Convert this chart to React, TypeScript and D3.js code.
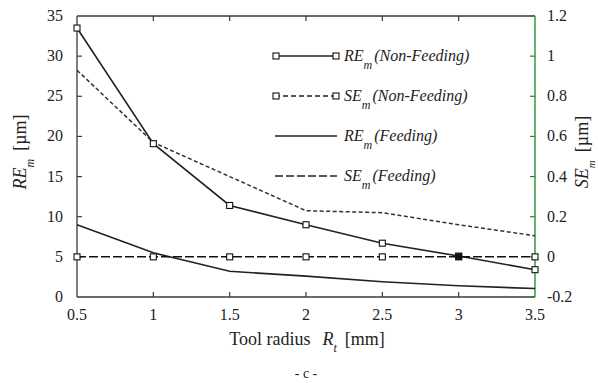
import React from "react";
import * as d3 from "d3";

// Tool radius [mm]
const radius = [0.5, 1, 1.5, 2, 2.5, 3, 3.5];
// RE_m [µm], left axis
const reNonFeeding = [33.5, 19.1, 11.4, 9.0, 6.7, 5.1, 3.4];
const reFeeding = [9.0, 5.5, 3.2, 2.6, 1.9, 1.4, 1.05];
// SE_m [µm], right axis
const seNonFeeding = [0.93, 0.57, 0.4, 0.23, 0.22, 0.16, 0.105];
const seFeeding = [0, 0, 0, 0, 0, 0, 0];

const xTicks = [0.5, 1, 1.5, 2, 2.5, 3, 3.5];
const leftTicks = [0, 5, 10, 15, 20, 25, 30, 35];
const rightTicks = [-0.2, 0, 0.2, 0.4, 0.6, 0.8, 1, 1.2];

const W = 598;
const H = 383;
const L = 77;
const R = 535;
const T = 16;
const B = 297;
const AXIS = "#3a3a3a";
const GREEN = "#1a8a1a";
const FONT = "Liberation Serif";

const x = d3.scaleLinear().domain([0.5, 3.5]).range([L, R]);
const yL = d3.scaleLinear().domain([0, 35]).range([B, T]);
const yR = d3.scaleLinear().domain([-0.2, 1.2]).range([B, T]);

const lineL = d3
  .line<number>()
  .x((_, i) => x(radius[i]))
  .y((d) => yL(d));
const lineR = d3
  .line<number>()
  .x((_, i) => x(radius[i]))
  .y((d) => yR(d));

const Sq = ({ cx, cy, fill = "#fff" }: { cx: number; cy: number; fill?: string }) => (
  <rect x={cx - 3} y={cy - 3} width={6} height={6} fill={fill} stroke="#111" strokeWidth={1.1} />
);

const legendRows = [
  { name: "RE", label: "(Non-Feeding)", dash: undefined as string | undefined, marks: true },
  { name: "SE", label: "(Non-Feeding)", dash: "5,3", marks: true },
  { name: "RE", label: "(Feeding)", dash: undefined, marks: false },
  { name: "SE", label: "(Feeding)", dash: "8,3", marks: false },
];
const legendY = [56, 96, 136, 176];

export default function App() {
  return (
    <svg
      width={W}
      height={H}
      fontFamily={FONT}
      style={{ position: "absolute", left: 0, top: 0, background: "#fff" }}
    >
      {/* frame */}
      <line x1={L} x2={R} y1={T} y2={T} stroke={AXIS} strokeWidth={1.3} />
      <line x1={L} x2={R} y1={B} y2={B} stroke={AXIS} strokeWidth={1.3} />
      <line x1={L} x2={L} y1={T} y2={B} stroke={AXIS} strokeWidth={1.3} />
      <line x1={R} x2={R} y1={T} y2={B} stroke={GREEN} strokeWidth={1.3} />

      {/* x ticks, top and bottom */}
      {xTicks.map((t) => (
        <g key={"x" + t}>
          {t > 0.5 && t < 3.5 && (
            <>
              <line x1={x(t)} x2={x(t)} y1={B} y2={B - 5} stroke={AXIS} strokeWidth={1.2} />
              <line x1={x(t)} x2={x(t)} y1={T} y2={T + 5} stroke={AXIS} strokeWidth={1.2} />
            </>
          )}
          <text x={x(t)} y={320} fontSize={16} textAnchor="middle" fill="#222">
            {t}
          </text>
        </g>
      ))}

      {/* left ticks */}
      {leftTicks.map((t) => (
        <g key={"l" + t}>
          {t > 0 && t < 35 && (
            <line x1={L} x2={L + 5} y1={yL(t)} y2={yL(t)} stroke={AXIS} strokeWidth={1.2} />
          )}
          <text x={63} y={yL(t) + 5} fontSize={16} textAnchor="end" fill="#222">
            {t}
          </text>
        </g>
      ))}

      {/* right ticks */}
      {rightTicks.map((t) => (
        <g key={"r" + t}>
          <line x1={R} x2={R - 5} y1={yR(t)} y2={yR(t)} stroke={GREEN} strokeWidth={1.2} />
          <text x={547} y={yR(t) + 5} fontSize={16} textAnchor="start" fill="#222">
            {t}
          </text>
        </g>
      ))}

      {/* series */}
      <path d={lineR(seNonFeeding) ?? ""} fill="none" stroke="#333" strokeWidth={1.5} strokeDasharray="4,2.5" />
      <path d={lineL(reNonFeeding) ?? ""} fill="none" stroke="#222" strokeWidth={1.6} />
      <path d={lineL(reFeeding) ?? ""} fill="none" stroke="#222" strokeWidth={1.6} />
      <path d={lineR(seFeeding) ?? ""} fill="none" stroke="#111" strokeWidth={1.5} strokeDasharray="9,3" />
      {reNonFeeding.map((v, i) => (
        <Sq key={"a" + i} cx={x(radius[i])} cy={yL(v)} />
      ))}
      {seFeeding.map((v, i) => (
        <Sq key={"b" + i} cx={x(radius[i])} cy={yR(v)} fill={radius[i] === 3 ? "#111" : "#fff"} />
      ))}

      {/* legend */}
      {legendRows.map((r, i) => {
        const y = legendY[i];
        return (
          <g key={"lg" + i}>
            <line x1={275} x2={337} y1={y} y2={y} stroke="#222" strokeWidth={1.5} strokeDasharray={r.dash} />
            {r.marks && (
              <>
                <Sq cx={276} cy={y} />
                <Sq cx={336} cy={y} />
              </>
            )}
            <text x={344} y={y + 5} fontSize={16} fontStyle="italic" fill="#222">
              {r.name}
              <tspan dy={8} fontSize={12}>m</tspan>
              <tspan dy={-8} dx={2}>{r.label}</tspan>
            </text>
          </g>
        );
      })}

      {/* axis titles */}
      <text transform="translate(26,152) rotate(-90)" fontSize={18} textAnchor="middle" fill="#222">
        <tspan fontStyle="italic">RE</tspan>
        <tspan dy={8} fontSize={12} fontStyle="italic">m</tspan>
        <tspan dy={-8} dx={8}>[µm]</tspan>
      </text>
      <text transform="translate(588,152) rotate(-90)" fontSize={18} textAnchor="middle" fill="#222">
        <tspan fontStyle="italic">SE</tspan>
        <tspan dy={7} fontSize={11} fontStyle="italic">m</tspan>
        <tspan dy={-7} dx={8}>[µm]</tspan>
      </text>
      <text x={307} y={345} fontSize={18} textAnchor="middle" fill="#222">
        Tool radius
        <tspan dx={12} fontStyle="italic">R</tspan>
        <tspan dy={7} fontSize={12} fontStyle="italic">t</tspan>
        <tspan dy={-7} dx={8}>[mm]</tspan>
      </text>
      <text x={306} y={378} fontSize={14} textAnchor="middle" fill="#222">
        - c -
      </text>
    </svg>
  );
}
